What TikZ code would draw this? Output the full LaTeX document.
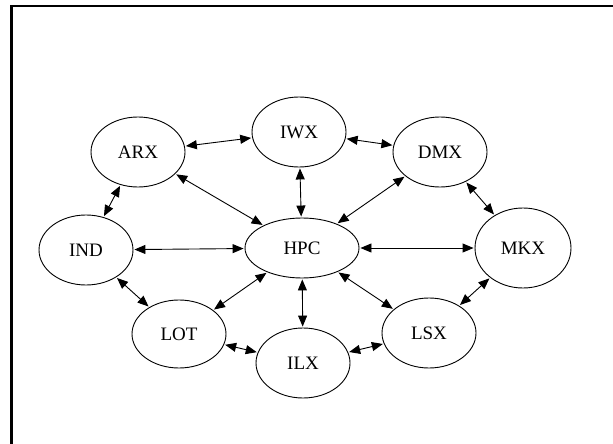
\documentclass[tikz,border=0pt]{standalone}
\usepackage{fontspec}
\setmainfont{Liberation Serif}
\usepackage{tikz}
\usetikzlibrary{shapes,shapes.geometric}
\usetikzlibrary{arrows.meta}
\tikzset{
	site/.style={ellipse, draw, line width=0.9pt, inner sep=0pt, minimum width=94pt, minimum height=70pt, font=\fontsize{19}{22}\selectfont},
	link/.style={line width=0.9pt, {Triangle[length=11pt,width=9pt]}-{Triangle[length=11pt,width=9pt]}, shorten <=1pt, shorten >=1pt}
}
\begin{document}
\begin{tikzpicture}[x=1pt, y=-1pt]
			\useasboundingbox (0,0) rectangle (613,444);
			\draw [line width=2.6pt] (11.5,444)-- (11.5,6)-- (613,6);
				\node [site] (IWX) at (299,132) {IWX};
				\node [site] (ARX) at (138,152) {ARX};
				\node [site] (DMX) at (440,152) {DMX};
				\node [site] (IND) at (86,250) {IND};
				\node [site, minimum width=114pt, minimum height=60pt] (HPC) at (302,248) {HPC};
				\node [site, minimum width=96pt, minimum height=80pt] (MKX) at (523,248) {MKX};
				\node [site, minimum height=68pt] (LOT) at (179,334) {LOT};
				\node [site] (ILX) at (303,363) {ILX};
				\node [site] (LSX) at (429,333) {LSX};
			\draw [link] (ARX)-- (IWX);
			\draw [link] (IWX)-- (DMX);
			\draw [link] (ARX)-- (IND);
			\draw [link] (ARX)-- (HPC);
			\draw [link] (IWX)-- (HPC);
			\draw [link] (DMX)-- (HPC);
			\draw [link] (DMX)-- (MKX);
			\draw [link] (IND)-- (HPC);
			\draw [link] (HPC)-- (MKX);
			\draw [link] (IND)-- (LOT);
			\draw [link] (HPC)-- (LOT);
			\draw [link] (HPC)-- (ILX);
			\draw [link] (HPC)-- (LSX);
			\draw [link] (MKX)-- (LSX);
			\draw [link] (LOT)-- (ILX);
			\draw [link] (ILX)-- (LSX);
		\end{tikzpicture}
\end{document}
